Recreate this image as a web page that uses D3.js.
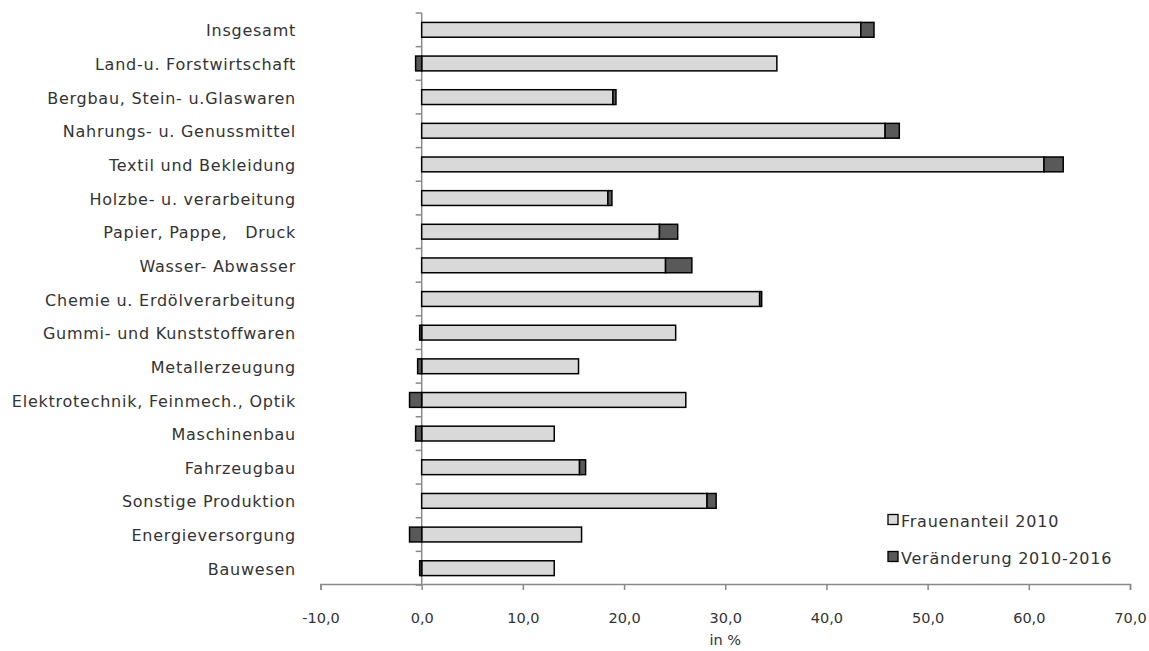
<!DOCTYPE html>
<html><head><meta charset="utf-8">
<script src="https://cdn.jsdelivr.net/npm/d3@7"></script>
<style>
body{margin:0;background:#fff;}
text{font-family:"DejaVu Sans",sans-serif;fill:#333;white-space:pre;}
</style></head>
<body><svg id="c" width="1149" height="651"></svg>
<script>
const categories = ["Insgesamt","Land-u. Forstwirtschaft","Bergbau, Stein- u.Glaswaren","Nahrungs- u. Genussmittel","Textil und Bekleidung","Holzbe- u. verarbeitung","Papier, Pappe,   Druck","Wasser- Abwasser","Chemie u. Erdölverarbeitung","Gummi- und Kunststoffwaren","Metallerzeugung","Elektrotechnik, Feinmech., Optik","Maschinenbau","Fahrzeugbau","Sonstige Produktion","Energieversorgung","Bauwesen"];
const share2010 = [43.4,35.1,18.9,45.8,61.5,18.4,23.5,24.1,33.4,25.1,15.5,26.1,13.1,15.6,28.2,15.8,13.1];
const change = [1.3,-0.6,0.3,1.4,1.9,0.4,1.8,2.6,0.2,-0.2,-0.4,-1.2,-0.6,0.6,0.9,-1.2,-0.2];
const seriesNames = ["Frauenanteil 2010","Veränderung 2010-2016"];
const xTicks = [-10,0,10,20,30,40,50,60,70];

const svg = d3.select("#c");
const x = d3.scaleLinear().domain([-10,70]).range([320.5,1130]);
const y = d3.scaleBand().domain(categories).range([13,585]).paddingInner(0.56).paddingOuter(0.28);
const yb = d3.scaleBand().domain(categories).range([13,585]);
const fmt = d => d3.format(".1f")(d).replace(".",",").replace("\u2212","-");
const LS = "0.75px";

// x axis
const xa = svg.append("g").attr("transform","translate(0,584)")
  .call(d3.axisBottom(x).tickValues(xTicks).tickFormat(fmt).tickSize(6).tickPadding(23));
xa.select(".domain").attr("stroke","#898989").attr("stroke-width",1.5);
xa.selectAll(".tick line").attr("stroke","#898989").attr("stroke-width",1.5);
xa.selectAll("text").attr("font-size",14.5).style("font-family","DejaVu Sans").attr("fill","#333");

// y axis line + ticks at band boundaries
const x0 = x(0);
svg.append("line").attr("x1",x0).attr("x2",x0).attr("y1",13).attr("y2",585)
  .attr("stroke","#898989").attr("stroke-width",1.5);
const bounds = categories.map(c=>yb(c)).concat([585]);
svg.selectAll(".yt").data(bounds).enter().append("line")
  .attr("x1",x0-6).attr("x2",x0).attr("y1",d=>d).attr("y2",d=>d)
  .attr("stroke","#898989").attr("stroke-width",1.5);

// category labels
svg.selectAll(".cl").data(categories).enter().append("text")
  .attr("x",296).attr("y",d=>yb(d)+yb.bandwidth()/2+1).attr("dy","0.35em")
  .attr("text-anchor","end").attr("font-size",16).style("letter-spacing",LS).text(d=>d);

// bars
const g = svg.append("g");
g.selectAll(".b1").data(categories).enter().append("rect")
  .attr("x",x(0)).attr("y",d=>y(d)).attr("height",y.bandwidth())
  .attr("width",(d,i)=>x(share2010[i])-x(0))
  .attr("fill","#d9d9d9").attr("stroke","#000").attr("stroke-width",1.5);
g.selectAll(".b2").data(categories).enter().append("rect")
  .attr("x",(d,i)=> change[i]>=0 ? x(share2010[i]) : x(change[i]))
  .attr("y",d=>y(d)).attr("height",y.bandwidth())
  .attr("width",(d,i)=> change[i]>=0 ? x(share2010[i]+change[i])-x(share2010[i]) : x(0)-x(change[i]))
  .attr("fill","#595959").attr("stroke","#000").attr("stroke-width",1.5);

// x axis title
svg.append("text").attr("x",(x(-10)+x(70))/2).attr("y",645).attr("text-anchor","middle")
  .attr("font-size",14.5).text("in %");

// legend
const lg = svg.append("g");
const fills = ["#d9d9d9","#595959"];
seriesNames.forEach((n,i)=>{
  const ly = 520 + i*37;
  lg.append("rect").attr("x",888).attr("y",ly-5.5).attr("width",10).attr("height",10)
    .attr("fill",fills[i]).attr("stroke","#000").attr("stroke-width",1.3);
  lg.append("text").attr("x",901).attr("y",ly+1).attr("dy","0.35em").attr("font-size",16)
    .style("letter-spacing",LS).text(n);
});
</script></body></html>
